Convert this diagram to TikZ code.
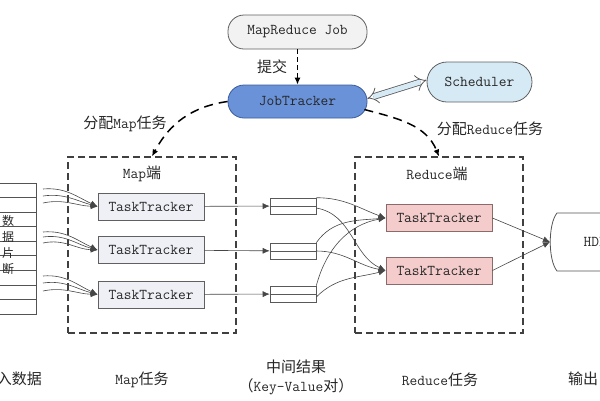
\documentclass[tikz,border=0pt]{standalone}
\usepackage{fontspec}
\newfontfamily\cjk{Noto Sans CJK SC}
\newcommand{\zh}[1]{{\cjk #1}}
\usetikzlibrary{arrows.meta}
\definecolor{jobfill}{HTML}{F2F2F2}
\definecolor{jtfill}{HTML}{6A92D8}
\definecolor{jtline}{HTML}{3B5B9C}
\definecolor{schfill}{HTML}{D6EAF5}
\definecolor{mapfill}{HTML}{EEF0F6}
\definecolor{redfill}{HTML}{F4CCCC}
\definecolor{redline}{HTML}{8A6A6A}
\tikzset{
  pill/.style={draw=gray!75!black, line width=0.8pt, rounded corners=16pt, minimum width=139pt, minimum height=34pt},
  tbox/.style={draw=gray!75!black, line width=0.8pt, minimum width=106pt, minimum height=27pt, fill=mapfill},
  kbox/.style={draw=gray!70!black, line width=0.6pt, minimum width=46pt, minimum height=16pt, inner sep=0pt},
  side/.style={draw=black!75, dashed, dash pattern=on 7pt off 4pt, line width=1.1pt, minimum width=168pt, minimum height=176pt},
  flow/.style={draw=gray!55!black, line width=0.6pt, ->},
  assign/.style={draw=black, dash pattern=on 9pt off 6pt, line width=1.5pt, ->},
  stack/.style={draw=gray!65!black, line width=0.7pt},
}
\begin{document}
\begin{tikzpicture}[x=1pt, y=-1pt, >={Latex[length=7pt,width=6pt]}, font=\fontsize{15}{17}\selectfont\ttfamily, text=black!85]
    \useasboundingbox (0,0) rectangle (600,400);
    \clip (0,0) rectangle (600,400);

    \coordinate (a01) at (297.5, 32);
    \coordinate (a02) at (297.5,101.5);
    \coordinate (a03) at (479.5, 82);
    \coordinate (a04) at (152  ,245);
    \coordinate (a05) at (439  ,245);
    \coordinate (a06) at (151  ,206.5);
    \coordinate (a07) at (151  ,250);
    \coordinate (a08) at (151  ,294.5);
    \coordinate (a09) at (293  ,206);
    \coordinate (a10) at (293  ,251);
    \coordinate (a11) at (293  ,294);
    \coordinate (a12) at (439  ,218);
    \coordinate (a13) at (439  ,270.5);

    \coordinate (l01) at (272,67);
    \coordinate (l02) at (125,124);
    \coordinate (l03) at (490,129);
    \coordinate (l04) at (142,174);
    \coordinate (l05) at (437,174);
    \coordinate (l06) at (12 ,379);
    \coordinate (l07) at (142,380);
    \coordinate (l08) at (296,367);
    \coordinate (l09) at (296,387);
    \coordinate (l10) at (440,380);
    \coordinate (l11) at (583,379);
    \coordinate (l12) at (8  ,245);
    \coordinate (l13) at (599,242);

    % input splits
    \draw[stack] (-10,183) rectangle (36.5,314);
    \foreach \i in {1,...,8}
        \draw[stack] (-10,183+\i*14.55) -- (36.5,183+\i*14.55);
    \node[align=center, font=\fontsize{12}{15.7}\selectfont\cjk] (src) at (l12) {数\\据\\片\\断};

    \node[pill, fill=jobfill] (job) at (a01) {MapReduce Job};
    \node[pill, fill=jtfill, draw=jtline, minimum height=33pt] (jt) at (a02) {JobTracker};
    \node[pill, fill=schfill, rounded corners=20pt, minimum width=105pt, minimum height=40pt] (sch) at (a03) {Scheduler};

    \node[side] (mapside) at (a04) {};
    \node[side] (redside) at (a05) {};

    \node[tbox] (mt1) at (a06) {TaskTracker};
    \node[tbox] (mt2) at (a07) {TaskTracker};
    \node[tbox] (mt3) at (a08) {TaskTracker};

    \node[kbox] (k1) at (a09) {};
    \node[kbox] (k2) at (a10) {};
    \node[kbox] (k3) at (a11) {};
    \foreach \k in {k1,k2,k3}
        \draw[gray!70!black, line width=0.6pt] (\k.west) -- (\k.east);

    \node[tbox, fill=redfill, draw=redline] (rt1) at (a12) {TaskTracker};
    \node[tbox, fill=redfill, draw=redline] (rt2) at (a13) {TaskTracker};

    \draw[gray!65!black, line width=0.8pt] (620,213) -- (557,213) .. controls (548,224) and (548,260) .. (557,271) -- (620,271);
    \coordinate (h01) at (550,242);
    \node (hdfs) at (l13) {HDFS};

    \node (n01) at (l01) {\zh{提交}};
    \node (n02) at (l02) {\zh{分配}Map\zh{任务}};
    \node (n03) at (l03) {\zh{分配}Reduce\zh{任务}};
    \node (n04) at (l04) {Map\zh{端}};
    \node (n05) at (l05) {Reduce\zh{端}};
    \node (n06) at (l06) {\zh{输入数据}};
    \node (n07) at (l07) {Map\zh{任务}};
    \node (n08) at (l08) {\zh{中间结果}};
    \node (n09) at (l09) {\zh{（}Key-Value\zh{对）}};
    \node (n10) at (l10) {Reduce\zh{任务}};
    \node (n11) at (l11) {\zh{输出}};

    \draw[assign, dash pattern=on 5pt off 3pt, line width=1.2pt] (job) -- (jt);
    \draw[draw=gray!70!black, line width=0.8pt, double=schfill, double distance=5pt, {Implies}-{Implies}] ([yshift=3pt]jt.east) -- ([yshift=2pt]sch.west);
    \draw[assign] (jt.west) to[out=188, in=62] (mapside.north);
    \draw[assign] ([xshift=-3pt,yshift=-8pt]jt.east) to[out=-15, in=112] (redside.north);

    \coordinate (i1) at (43,189);
    \coordinate (i2) at (43,196);
    \coordinate (i3) at (43,203);
    \coordinate (i4) at (43,232);
    \coordinate (i5) at (43,237);
    \coordinate (i6) at (43,243);
    \coordinate (i7) at (43,276);
    \coordinate (i8) at (43,283);
    \coordinate (i9) at (43,291);
    \draw[flow] (i1) to[out=5, in=155] (mt1.west);
    \draw[flow] (i2) to[out=8, in=165] (mt1.west);
    \draw[flow] (i3) to[out=12, in=178] (mt1.west);
    \draw[flow] (i4) to[out=5, in=155] (mt2.west);
    \draw[flow] (i5) to[out=8, in=165] (mt2.west);
    \draw[flow] (i6) to[out=12, in=178] (mt2.west);
    \draw[flow] (i7) to[out=5, in=155] (mt3.west);
    \draw[flow] (i8) to[out=8, in=165] (mt3.west);
    \draw[flow] (i9) to[out=12, in=178] (mt3.west);

    \draw[flow] (mt1) -- (k1);
    \draw[flow] (mt2) -- (k2);
    \draw[flow] (mt3) -- (k3);

    \draw[flow] (k1.north east) to[out=0, in=160] (rt1.west);
    \draw[flow] ([yshift=-2pt]k1.east) to[out=-10, in=155] (rt2.west);
    \draw[flow] (k2.north east) to[out=55, in=185] (rt1.west);
    \draw[flow] (k2.east) to[out=0, in=170] (rt2.west);
    \draw[flow] (k3.north east) to[out=75, in=190] (rt1.west);
    \draw[flow] ([yshift=-3pt]k3.east) to[out=45, in=195] (rt2.west);

    \draw[flow] (rt1.east) -- (h01);
    \draw[flow] (rt2.east) -- (h01);
\end{tikzpicture}
\end{document}
